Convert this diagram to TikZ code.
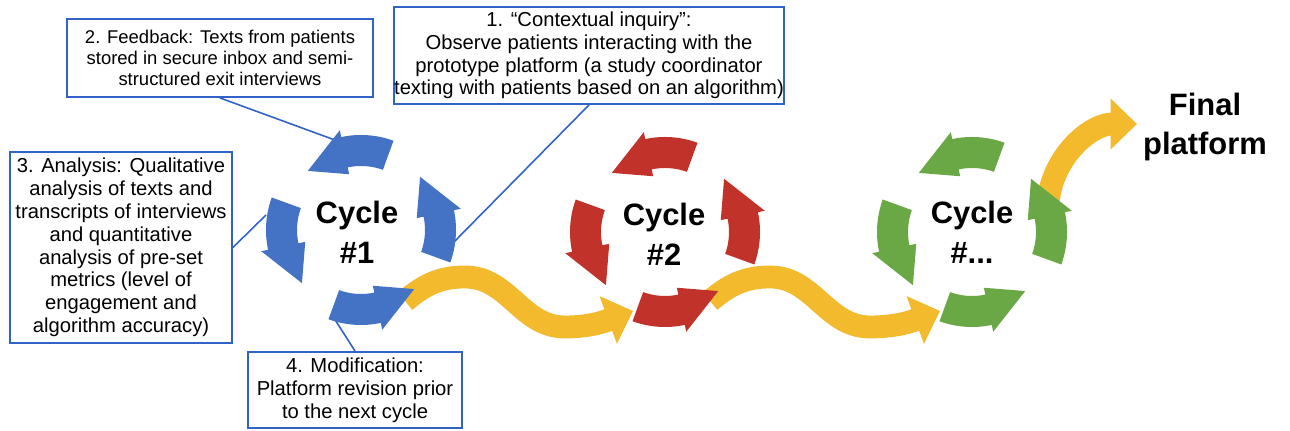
\documentclass[tikz,border=0pt]{standalone}
\usepackage{fontspec}
\setmainfont{Liberation Sans}
\usetikzlibrary{arrows.meta}
\definecolor{cblue}{RGB}{68,114,196}
\definecolor{cred}{RGB}{192,50,42}
\definecolor{cgreen}{RGB}{106,168,69}
\definecolor{cyellow}{RGB}{243,186,46}
\definecolor{lineblue}{RGB}{48,98,200}
\begin{document}
\begin{tikzpicture}[x=0.02cm, y=0.02cm,
  main/.style = {draw=lineblue, line width=1.1pt, align=center, inner sep=0pt, font=\fontsize{11.5}{13}\selectfont},
  cyc/.style = {align=center, font=\fontsize{17.6}{22.7}\selectfont\bfseries},
  wave/.style = {cyellow, line width=13pt, -{Triangle[width=28pt, length=15pt]}},
  link/.style = {lineblue, line width=0.9pt}]
\useasboundingbox (0,0) rectangle (1290,431);

\node[main, minimum width=7.68cm, minimum height=1.94cm] (1) at (589,375.5) {1. “Contextual inquiry”:\\Observe patients interacting with the\\prototype platform (a study coordinator\\texting with patients based on an algorithm)};
\node[main, minimum width=6.12cm, minimum height=1.56cm, font=\fontsize{10.5}{12}\selectfont] (2) at (220,373) {2. Feedback: Texts from patients\\stored in secure inbox and semi-\\structured exit interviews};
\node[main, minimum width=4.44cm, minimum height=3.82cm] (3) at (121,183.5) {3. Analysis: Qualitative\\analysis of texts and\\transcripts of interviews\\and quantitative\\analysis of pre-set\\metrics (level of\\engagement and\\algorithm accuracy)};
\node[main, minimum width=4.28cm, minimum height=1.52cm] (4) at (355,41) {4. Modification:\\Platform revision prior\\to the next cycle};

\coordinate (a1) at (450,185);
\coordinate (a2) at (343,288);
\coordinate (a3) at (266,216);
\coordinate (a4) at (332,116);

\draw[wave] (405,130) to[out=40,in=180] (465,154) to[out=0,in=180] (565,104) to[out=0,in=200] (633,120);
\draw[wave] (710,130) to[out=40,in=180] (770,154) to[out=0,in=180] (870,104) to[out=0,in=200] (940,120);
\draw[wave] (1048,228) to[out=85,in=180] (1137,307);

\draw[link] (1.south) -- (a1);
\draw[link] (2.south) -- (a2);
\draw[link] (3.east) -- (a3);
\draw[link] (4.north) -- (a4);

\foreach \cx/\cy/\col in {361/201/cblue, 665/199/cred, 972/199/cgreen}
  \foreach \a in {0,90,180,270}
    \fill[\col, shift={(\cx,\cy)}] (70+\a:95) arc[start angle=70+\a, end angle=102+\a, radius=95] -- (102+\a:102) -- (132+\a:79.5) -- (102+\a:57) -- (102+\a:64) arc[start angle=102+\a, end angle=70+\a, radius=64] -- cycle;

\node[cyc] (c1) at (357,199) {Cycle\\\#1};
\node[cyc] (c2) at (664,197) {Cycle\\\#2};
\node[cyc] (c3) at (972,199) {Cycle\\\#...};
\node[cyc] (f) at (1205,304) {Final\\platform};
\end{tikzpicture}
\end{document}
